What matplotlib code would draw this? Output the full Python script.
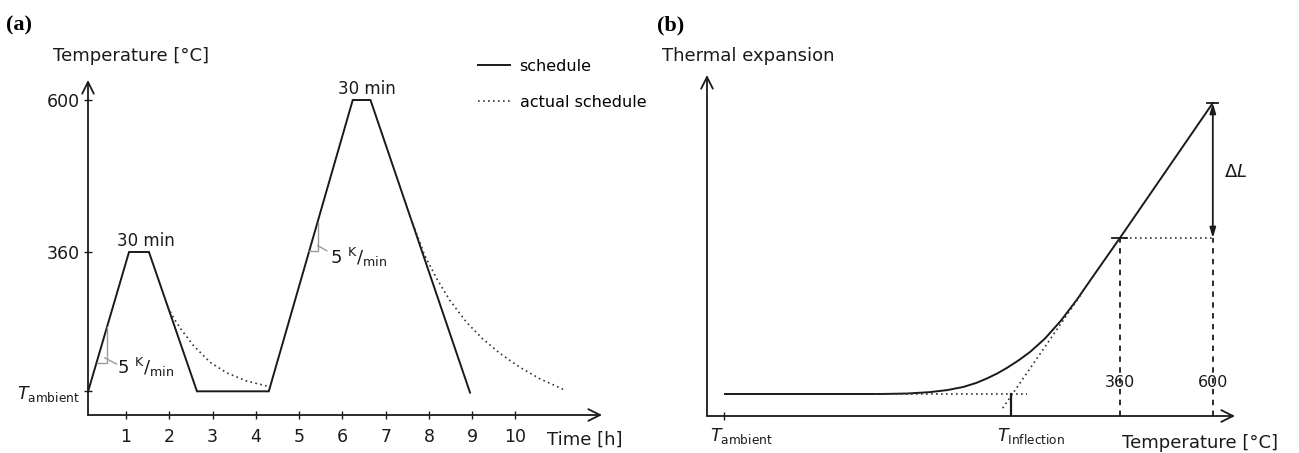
import matplotlib
matplotlib.use("Agg")
import matplotlib.pyplot as plt

W, H = 1299, 453

# ---- panel (a): heat treatment schedule ----
sched_t = [0.125, 1.07, 1.53, 2.64, 4.30, 6.24, 6.65, 8.95]
sched_T = [140, 360, 360, 140, 140, 600, 600, 138]
cool1_t = [1.97, 2.10, 2.25, 2.55, 2.94, 3.33, 3.80, 4.28]
cool1_T = [273, 256, 240, 213, 186, 169, 156, 148]
cool2_t = [7.63, 7.90, 8.18, 8.48, 8.87, 9.24, 9.64, 10.10, 10.56, 11.14]
cool2_T = [405, 355, 318, 284, 249, 223, 200, 178, 160, 142]
time_ticks = [1, 2, 3, 4, 5, 6, 7, 8, 9, 10]
temp_ticks = [140, 360, 600]
temp_labels = [r"$T_{\mathrm{ambient}}$", "360", "600"]

# ---- panel (b): dilatometer curve (schematic units) ----
exp_x = [3.4, 32.8, 38.0, 42.2, 45.5, 48.5, 51.0, 53.0, 55.0, 56.8, 59.0, 61.2,
         64.0, 67.0, 70.0, 73.0, 78.2, 95.8]
exp_y = [6.45, 6.45, 6.6, 7.0, 7.6, 8.5, 9.7, 11.0, 12.5, 14.1, 16.3, 18.8,
         22.7, 27.9, 34.0, 40.7, 52.2, 91.8]
tangent_x = [56.0, 71.0]
tangent_y = [2.3, 36.0]
base_level = 6.45
x_amb, x_infl, x_360, x_600 = 3.2, 57.6, 78.2, 95.8
y_360, y_600 = 52.2, 91.8

INK = "#1a1a1a"
DOT = (0, (1, 2))


def fx(px):
    return px / W


def fy(py):
    return 1 - py / H


def axis_arrows(ax):
    for s in ax.spines.values():
        s.set_visible(False)
    kw = dict(arrowstyle="->,head_length=0.6,head_width=0.3", lw=1.3, color=INK,
              shrinkA=0, shrinkB=0, mutation_scale=14)
    ax.annotate("", xy=(1, 0), xytext=(0, 0), xycoords="axes fraction",
                arrowprops=kw, annotation_clip=False)
    ax.annotate("", xy=(0, 1), xytext=(0, 0), xycoords="axes fraction",
                arrowprops=kw, annotation_clip=False)


fig = plt.figure(figsize=(W / 100, H / 100), dpi=100)

# ================= (a) =================
ax = fig.add_axes([fx(88), fy(415), fx(602) - fx(88), fy(80) - fy(415)])
ax.set_xlim(0.122, 12.0)
ax.set_ylim(102.6, 631.6)
axis_arrows(ax)

ax.plot(sched_t, sched_T, color=INK, lw=1.4, label="schedule", solid_joinstyle="miter")
ax.plot(cool1_t, cool1_T, color="#333333", lw=1.2, ls=DOT, label="actual schedule")
ax.plot(cool2_t, cool2_T, color="#333333", lw=1.2, ls=DOT)

ax.set_xticks(time_ticks)
ax.set_xticklabels([str(t) for t in time_ticks])
ax.set_yticks(temp_ticks)
ax.set_yticklabels(temp_labels)
ax.tick_params(axis="both", direction="inout", length=6, width=1.0, color=INK,
               labelsize=12.5, labelcolor=INK)
ax.tick_params(axis="x", pad=6)
ax.tick_params(axis="y", pad=3)

# 30 min holds
ax.text(1.46, 377, "30 min", ha="center", va="center", fontsize=12, color=INK)
ax.text(6.57, 617, "30 min", ha="center", va="center", fontsize=12, color=INK)

# slope triangles
grey = "#9a9a9a"
ax.plot([0.33, 0.56, 0.56], [185, 185, 241], color=grey, lw=1.0)
ax.plot([0.51, 0.78], [193, 183], color=grey, lw=1.0)
ax.text(0.80, 178, r"5 $^{\mathrm{K}}/_{\mathrm{min}}$", ha="left", va="center",
        fontsize=13, color=INK)
ax.plot([5.24, 5.43, 5.43], [362, 362, 405], color=grey, lw=1.0)
ax.plot([5.43, 5.64], [370, 362], color=grey, lw=1.0)
ax.text(5.72, 352, r"5 $^{\mathrm{K}}/_{\mathrm{min}}$", ha="left", va="center",
        fontsize=13, color=INK)

ax.legend(loc="upper left", bbox_to_anchor=(fx(478), fy(59)), bbox_transform=fig.transFigure,
          frameon=False, handlelength=2.0, handletextpad=0.6, labelspacing=1.3,
          borderpad=0, borderaxespad=0, fontsize=11.5)

fig.text(fx(53), fy(56), "Temperature [°C]", ha="left", va="center", fontsize=13, color=INK)
fig.text(fx(547), fy(440), "Time [h]", ha="left", va="center", fontsize=13, color=INK)
fig.text(fx(6), fy(25), "(a)", ha="left", va="center", fontsize=16, fontweight="bold",
         family="Liberation Serif", color="k")

# ================= (b) =================
bx = fig.add_axes([fx(707), fy(416), fx(1235) - fx(707), fy(75) - fy(416)])
bx.set_xlim(0, 100)
bx.set_ylim(0, 100)
axis_arrows(bx)

bx.plot(exp_x, exp_y, color=INK, lw=1.4)
bx.plot(tangent_x, tangent_y, color="#333333", lw=1.2, ls=DOT)
bx.plot([32.0, 60.6], [base_level, base_level], color="#333333", lw=1.2, ls=DOT)
bx.plot([x_360, x_600], [y_360, y_360], color="#333333", lw=1.2, ls=DOT)
bx.plot([x_360, x_360], [0, y_360], color=INK, lw=1.3, ls=(0, (3, 3)))
bx.plot([x_600, x_600], [0, y_360], color=INK, lw=1.3, ls=(0, (3, 3)))
bx.plot([x_infl, x_infl], [0, base_level], color=INK, lw=1.6)
bx.plot([x_360 - 1.5, x_360 + 1.4], [y_360, y_360], color=INK, lw=1.3)
bx.plot([x_600 - 1.1, x_600 + 1.0], [y_600, y_600], color=INK, lw=1.3)
bx.annotate("", xy=(x_600, y_600), xytext=(x_600, y_360),
            arrowprops=dict(arrowstyle="<|-|>,head_length=0.5,head_width=0.15", lw=1.3,
                            color=INK, shrinkA=0, shrinkB=0, mutation_scale=12))
bx.text(98.0, 71.6, r"$\Delta L$", ha="left", va="center", fontsize=13, color=INK)
bx.text(x_360, 9.7, "360", ha="center", va="center", fontsize=11.5, color=INK)
bx.text(x_600, 9.7, "600", ha="center", va="center", fontsize=11.5, color=INK)

bx.set_xticks([x_amb])
bx.set_xticklabels([""])
bx.set_yticks([])
bx.tick_params(axis="x", direction="inout", length=6, width=1.0, color=INK)
bx.annotate(r"$T_{\mathrm{ambient}}$", (x_amb, 0), xytext=(-10, -7), textcoords="offset points",
            ha="left", va="top", fontsize=12.5, color=INK, annotation_clip=False)
bx.annotate(r"$T_{\mathrm{Inflection}}$", (x_infl, 0), xytext=(-10, -7), textcoords="offset points",
            ha="left", va="top", fontsize=12.5, color=INK, annotation_clip=False)

fig.text(fx(662), fy(56), "Thermal expansion", ha="left", va="center", fontsize=13, color=INK)
fig.text(fx(1122), fy(443), "Temperature [°C]", ha="left", va="center", fontsize=13, color=INK)
fig.text(fx(657), fy(25), "(b)", ha="left", va="center", fontsize=16, fontweight="bold",
         family="Liberation Serif", color="k")

fig.savefig("out.png", dpi=100)
